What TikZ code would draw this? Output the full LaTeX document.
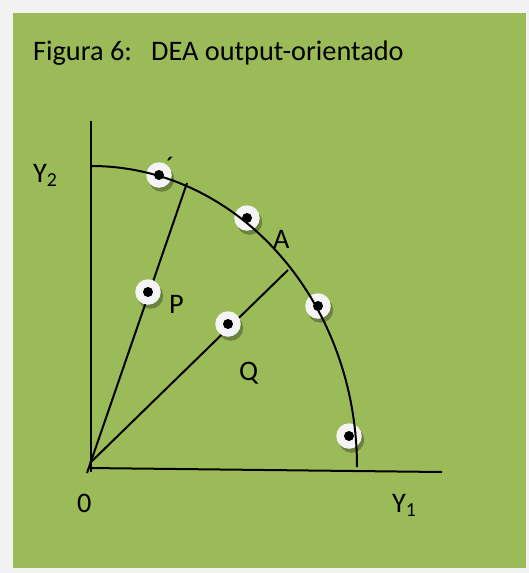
\documentclass[tikz,border=0pt]{standalone}
\usepackage{fontspec}
\setmainfont{Carlito}
\usetikzlibrary{shadows}
\definecolor{panelgreen}{HTML}{9BBB59}
\definecolor{outergray}{HTML}{F2F2F2}
\definecolor{ringwhite}{HTML}{F4F4F4}
\begin{document}
\begin{tikzpicture}[x=1pt,y=-1pt,
  lbl/.style={inner sep=0pt, anchor=base west, font=\fontsize{28.3}{34}\selectfont},
  dmu/.style={circle, inner sep=0pt, minimum size=25.5pt, fill=ringwhite,
    drop shadow={shadow xshift=2.5pt, shadow yshift=-4pt, fill=black, opacity=0.3},
    path picture={\fill[black] (path picture bounding box.center) circle[radius=5pt];}},
  ln/.style={line width=2pt, black},
]
\fill[outergray] (0,0) rectangle (529,573);
\fill[panelgreen] (13,13) rectangle (526,568);
\useasboundingbox (0,0) rectangle (529,573);

% title
\node[lbl] (title) at (33,60) {Figura 6:\ \ \ DEA output-orientado};

% axes and rays
\coordinate (ytop) at (91,121);
\coordinate (ybot) at (91,472);
\coordinate (xl) at (88,468);
\coordinate (xr) at (442,472);
\coordinate (O) at (90,463);
\coordinate (r1low) at (87,473);
\coordinate (e1) at (187,183);
\coordinate (e2) at (288,270);
\coordinate (arcstart) at (91,166);

\draw[ln] (ytop) -- (ybot);
\draw[ln] (xl) -- (xr);
\draw[ln] (r1low) -- (e1);
\draw[ln] (O) -- (e2);

% observations
\node[dmu] (d1) at (159,175) {};
\node[dmu] (d2) at (247,218) {};
\node[dmu] (p) at (148,292) {};
\node[dmu] (q) at (228,324) {};
\node[dmu] (d3) at (318,306) {};
\node[dmu] (d4) at (349,436) {};

% frontier
\draw[ln] (arcstart) arc[start angle=-90, end angle=0, x radius=266, y radius=301];

% labels
\node[lbl] (prime) at (166,176) {´};
\node[lbl] (lp) at (169,313) {P};
\node[lbl] (lq) at (239,380) {Q};
\node[lbl] (la) at (273,248) {A};
\node[lbl] (ly2) at (33,182) {Y\textsubscript{2}};
\node[lbl] (lzero) at (77,512) {0};
\node[lbl] (ly1) at (392,512) {Y\textsubscript{1}};
\end{tikzpicture}
\end{document}
